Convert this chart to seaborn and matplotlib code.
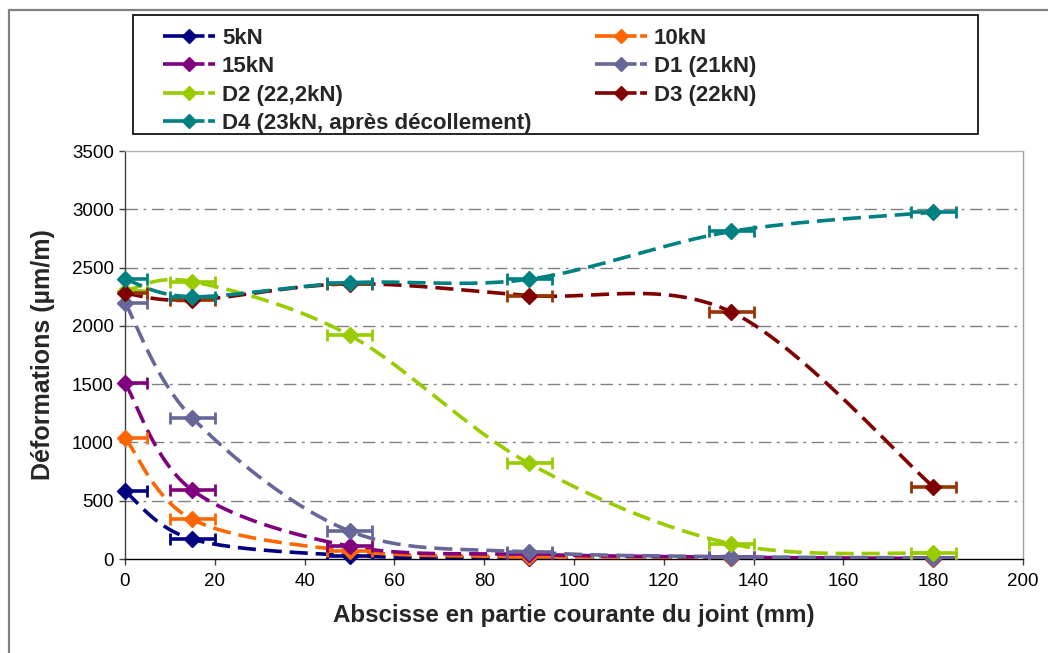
import matplotlib
matplotlib.use('Agg')
import matplotlib.pyplot as plt
from matplotlib.lines import Line2D
from matplotlib.patches import Rectangle
import seaborn as sns
import numpy as np

# --- data ---
ABSCISSES = [0, 15, 50, 90, 135, 180]
ERR_X = 5

SERIES_NAMES = ["5kN", "10kN", "15kN", "D1 (21kN)", "D2 (22,2kN)", "D3 (22kN)",
                "D4 (23kN, après décollement)"]
DEF_5KN = [580, 170, 30, 10, 5, 0]
DEF_10KN = [1040, 340, 70, 20, 5, 0]
DEF_15KN = [1510, 590, 110, 40, 15, 5]
DEF_D1 = [2200, 1210, 240, 60, 20, 10]
DEF_D2 = [2300, 2380, 1920, 820, 130, 50]
DEF_D3 = [2280, 2220, 2360, 2260, 2120, 620]
DEF_D4 = [2400, 2250, 2370, 2400, 2810, 2975]
ALL_DEF = [DEF_5KN, DEF_10KN, DEF_15KN, DEF_D1, DEF_D2, DEF_D3, DEF_D4]

COLORS = ["#000080", "#FF6600", "#800080", "#666699", "#99CC00", "#800000", "#008080"]
ERR_COLORS = ["#000080", "#FF6600", "#800080", "#666699", "#99CC00", "#993300", "#008080"]

Y_TICKS = [0, 500, 1000, 1500, 2000, 2500, 3000, 3500]
X_TICKS = list(range(0, 201, 20))


def smooth_curve(x, y, n=40):
    # Excel style smoothed line (Catmull-Rom as cubic Bezier)
    pts = np.column_stack([x, y]).astype(float)
    out = []
    for i in range(len(pts) - 1):
        p0 = pts[max(i - 1, 0)]
        p1 = pts[i]
        p2 = pts[i + 1]
        p3 = pts[min(i + 2, len(pts) - 1)]
        c1 = p1 + (p2 - p0) / 6
        c2 = p2 - (p3 - p1) / 6
        t = np.linspace(0, 1, n)[:, None]
        seg = (1 - t) ** 3 * p1 + 3 * (1 - t) ** 2 * t * c1 + 3 * (1 - t) * t ** 2 * c2 + t ** 3 * p2
        out.append(seg if i == 0 else seg[1:])
    s = np.vstack(out)
    return s[:, 0], s[:, 1]


sns.set_theme(style="white")
plt.rcParams['font.family'] = ['Liberation Sans', 'DejaVu Sans']

W, H = 1048, 653
fig = plt.figure(figsize=(W / 100, H / 100), dpi=100)
ax = fig.add_axes([125 / W, 1 - 559 / H, (1023 - 125) / W, (559 - 151) / H])

DASH = (0, (5, 2.2))
for name, vals, col, ecol in zip(SERIES_NAMES, ALL_DEF, COLORS, ERR_COLORS):
    sx, sy = smooth_curve(ABSCISSES, vals)
    sns.lineplot(x=sx, y=sy, ax=ax, sort=False, estimator=None, color=col,
                 lw=2.6, linestyle=DASH, zorder=3)
    ax.errorbar(ABSCISSES, vals, xerr=ERR_X, fmt='none', ecolor=ecol, elinewidth=2.6,
                capsize=4, capthick=2, zorder=4)
    ax.plot(ABSCISSES, vals, linestyle='none', marker='D', ms=8, color=col,
            mec=col, zorder=5, clip_on=False)

ax.set_xlim(0, 200)
ax.set_ylim(0, 3500)
ax.set_xticks(X_TICKS)
ax.set_yticks(Y_TICKS)
ax.tick_params(axis='both', direction='out', length=4, width=1, color='#404040',
               labelsize=13.5, labelcolor='black', bottom=True, left=True)
ax.tick_params(axis='x', pad=6)
ax.tick_params(axis='y', pad=4)

for y in Y_TICKS[1:-1]:
    ax.axhline(y, color='#808080', lw=1, linestyle=(0, (9, 4, 2, 4)), zorder=1)

ax.spines['left'].set_color('#404040')
ax.spines['bottom'].set_color('black')
ax.spines['top'].set_color('#B0B0B0')
ax.spines['right'].set_color('#A0A0A0')
for sp in ax.spines.values():
    sp.set_linewidth(1)

ax.set_xlabel("Abscisse en partie courante du joint (mm)", fontsize=17.4,
              fontweight='bold', labelpad=10)
ax.set_ylabel("Déformations (µm/m)", fontsize=18, fontweight='bold', labelpad=12)

# legend: row order 5kN,10kN / 15kN,D1 / D2,D3 / D4 -> column-wise handles
order = [0, 2, 4, 6, 1, 3, 5]
handles = [Line2D([], [], color=COLORS[i], lw=2.6, marker='D', ms=7,
                  linestyle=(0, (7, 1.5, 3, 1))) for i in order]
labels = [SERIES_NAMES[i] for i in order]
leg = fig.legend(handles, labels, ncol=2, loc='upper left',
                 bbox_to_anchor=(163 / W, 1 - 27.5 / H),
                 frameon=False, borderpad=0, borderaxespad=0,
                 handlelength=2.35, handletextpad=0.3, columnspacing=2.85,
                 labelspacing=0.34,
                 prop={'family': ['Liberation Sans'], 'weight': 'bold', 'size': 16})

# legend frame
fig.add_artist(Rectangle((133 / W, 1 - 134 / H), (978 - 133) / W, (134 - 15) / H,
                         transform=fig.transFigure, fill=False, edgecolor='black', lw=1.2))

# outer chart border (left and top edges visible)
fig.add_artist(Line2D([9 / W, 9 / W], [0, 1 - 10 / H], transform=fig.transFigure,
                      color='#808080', lw=1.6))
fig.add_artist(Line2D([9 / W, 1], [1 - 10 / H, 1 - 10 / H], transform=fig.transFigure,
                      color='#808080', lw=1.6))

fig.savefig("out.png", dpi=100)
